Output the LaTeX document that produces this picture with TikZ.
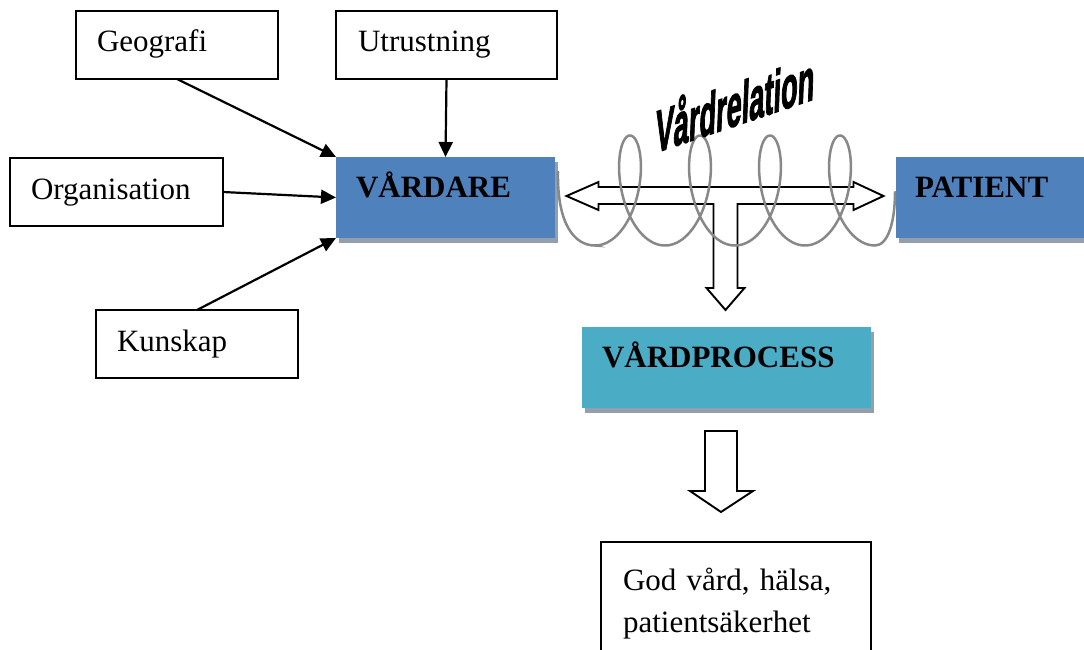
\documentclass[tikz,border=0pt]{standalone}
\usepackage{fontspec}
\setmainfont{Liberation Serif}
\newfontfamily\wordartfont[BoldFeatures={FakeBold=2.5}]{Liberation Sans}
\usetikzlibrary{arrows.meta,calc,shadows}

\definecolor{carerblue}{HTML}{4F81BD}
\definecolor{processteal}{HTML}{4BACC6}
\definecolor{boxshadow}{HTML}{929FAD}
\definecolor{coilgray}{HTML}{888888}

\begin{document}
\begin{tikzpicture}[x=1pt,y=-1pt,
  every node/.style={inner sep=0pt, outer sep=0pt},
  basefont/.style={font=\fontsize{31}{37}\selectfont},
  factorbox/.style={basefont, draw=black, line width=1.7pt, fill=white,
    anchor=north west, align=left, inner xsep=21pt,
    text height=21pt, text depth=7pt},
  keybox/.style={basefont, font=\fontsize{31}{37}\selectfont\bfseries,
    fill=#1, anchor=north west, align=left, inner xsep=20pt,
    text height=21pt, text depth=22pt, minimum height=81pt,
    drop shadow={shadow xshift=3pt, shadow yshift=-5pt, fill=boxshadow, opacity=1}},
  influence/.style={line width=2.2pt, -{Triangle[length=15pt,width=14pt]}},
  blockarrow/.style={draw=black, line width=1.9pt, fill=white, line join=miter},
  coil/.style={draw=coilgray, line width=2.5pt, line cap=round},
]
\useasboundingbox (0,0) rectangle (1084,650);
\clip (0,0) rectangle (1084,650);

% factors acting on the carer
\node[factorbox, minimum height=68pt, text width=160pt] (geo) at (76,11) {Geografi};
\node[factorbox, minimum height=68pt, text width=177pt, inner xsep=22pt] (utr) at (336,11) {Utrustning};
\node[factorbox, minimum height=68pt, text width=171pt] (org) at (10,158) {Organisation};
\node[factorbox, minimum height=68pt, text width=160pt] (kun) at (96,310) {Kunskap};

% the three central boxes
\node[keybox=carerblue, text width=179pt] (vard) at (336,157) {VÅRDARE};
\node[keybox=carerblue, text width=162pt, inner xsep=19pt] (pat) at (896,157) {PATIENT};
\node[keybox=processteal, text width=249pt] (proc) at (582,327) {VÅRDPROCESS};

% outcome
\node[basefont, font=\fontsize{31}{42}\selectfont, draw=black, line width=1.7pt,
  anchor=north west, align=left, text width=226pt, inner xsep=22pt, inner ysep=26pt]
  (res) at (601,542) {God vård, hälsa,\\patientsäkerhet};

% influences
\draw[influence] (geo.south) -- (vard.north west);
\draw[influence] (utr.south) -- (vard.north);
\draw[influence] (org.east) -- (vard.west);
\draw[influence] (kun.north) -- (vard.south west);

% two-way relation arrow with its branch down to the care process
\coordinate (hub) at ($(vard.east)!0.5!(pat.west)+(0,-1.5)$);
\draw[blockarrow, shift={(hub)}]
  (-159,0) -- (-127,-14) -- (-127,-9) -- (128,-9) -- (128,-14) -- (158,0)
  -- (128,14) -- (128,8) -- (12,8) -- (12,92) -- (19,92) -- (0,114)
  -- (-19,92) -- (-12,92) -- (-12,8) -- (-127,8) -- (-127,14) -- cycle;

% arrow from the care process to the outcome
\coordinate (dn) at ($(proc.south)+(-5.5,23)$);
\draw[blockarrow, shift={(dn)}]
  (-16,0) -- (16,0) -- (16,60) -- (32,60) -- (0,81) -- (-31,60) -- (-16,60) -- cycle;

% the coil of the care relation
\draw[coil] (558,172) .. controls (557,225) and (575,245.5) .. (595,245.5)
  -- plot[domain=pi:9*pi, samples=360, smooth]
     ({560+11.14*\x-26*sin(\x r)}, {190.5-55*cos(\x r)})
  .. controls (888,245.5) and (895,222) .. (895,192);

% slanted title of the relation
\node[anchor=base west, font=\wordartfont\bfseries\fontsize{40}{40}\selectfont,
  cm={0.68,0.23,0.06,1.5,(0,0)}] (rel) at (655,153) {Vårdrelation};
\end{tikzpicture}
\end{document}
